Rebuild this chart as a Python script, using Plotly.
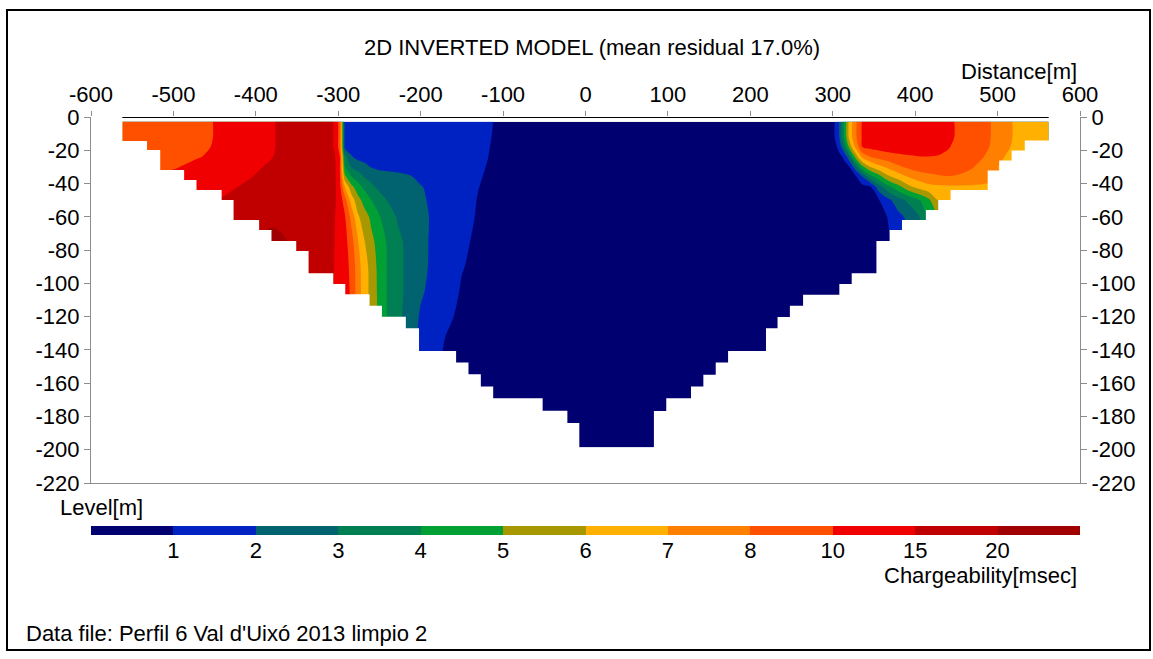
import numpy as np
import plotly.graph_objects as go

# ---------------------------------------------------------------------------
# Model nodes: horizontal position (m) of the node columns, split in blocks
# ---------------------------------------------------------------------------
DIST_WEST = [-562, -530, -500, -470, -440, -410, -380, -350, -325, -310,
             -304, -298, -292, -284, -276, -268, -260, -250, -240, -228,
             -214, -200, -186, -170, -150, -130, -110]
DIST_CENTRE = [-60, 60, 180, 270]
DIST_EAST = [295, 302, 308, 314, 320, 328, 336, 346, 356, 368,
             380, 392, 404, 416, 428, 440, 455, 470, 485, 500,
             515, 530, 562]

# Depth of each node row (m below surface)
DEPTH = [2.8, 12, 18, 24, 30, 36, 42, 50, 60, 75, 90, 105, 120, 140, 170, 198.7]

# Chargeability (msec), one list per depth row
CHARGE_WEST = [
    [9.2, 9.3, 9.5, 9.7, 10.5, 12.5, 14.75, 16.75, 17.0, 16.0, 14.5, 9.0, 1.6, 1.6, 1.6, 1.6, 1.6, 1.6, 1.6, 1.6, 1.6, 1.6, 1.6, 1.6, 1.55, 1.45, 0.95],
    [9.2, 9.3, 9.5, 9.7, 10.5, 12.5, 14.75, 16.75, 17.0, 16.0, 14.5, 9.0, 1.6, 1.6, 1.6, 1.6, 1.6, 1.6, 1.6, 1.6, 1.6, 1.6, 1.6, 1.6, 1.55, 1.4, 0.9],
    [9.2, 9.3, 9.4, 9.7, 10.75, 12.75, 14.75, 16.75, 17.0, 16.0, 14.5, 9.0, 1.7, 1.6, 1.6, 1.6, 1.6, 1.6, 1.6, 1.6, 1.6, 1.6, 1.6, 1.6, 1.5, 1.35, 0.85],
    [9.0, 9.1, 9.4, 9.9, 11.5, 13.25, 14.95, 16.75, 17.25, 16.5, 15.25, 10.0, 3.4, 2.1, 1.7, 1.6, 1.6, 1.6, 1.6, 1.6, 1.6, 1.6, 1.6, 1.6, 1.5, 1.3, 0.8],
    [9.2, 9.5, 9.8, 11.5, 13.0, 14.25, 15.5, 17.0, 17.25, 17.0, 15.75, 10.0, 4.1, 2.95, 2.6, 2.3, 1.95, 1.7, 1.65, 1.6, 1.6, 1.6, 1.6, 1.55, 1.5, 1.2, 0.75],
    [10.5, 11.0, 11.5, 12.5, 13.5, 14.75, 16.0, 17.0, 17.25, 17.0, 15.75, 10.5, 5.3, 4.05, 3.5, 2.95, 2.75, 2.6, 2.45, 2.3, 2.1, 1.8, 1.65, 1.6, 1.5, 1.1, 0.7],
    [11.5, 11.75, 12.25, 13.0, 14.25, 15.5, 16.75, 17.25, 17.25, 17.0, 15.75, 11.25, 7.02, 5.3, 4.4, 3.75, 3.2, 2.75, 2.55, 2.4, 2.25, 2.05, 1.8, 1.65, 1.45, 1.02, 0.7],
    [13.0, 13.5, 14.0, 14.5, 15.25, 16.75, 17.25, 17.5, 17.25, 17.0, 15.5, 12.75, 8.9, 6.55, 5.35, 4.6, 4.02, 3.45, 2.95, 2.65, 2.4, 2.15, 1.85, 1.65, 1.4, 0.95, 0.65],
    [14.0, 14.5, 15.0, 16.0, 17.0, 17.5, 17.75, 17.5, 17.25, 17.0, 15.05, 13.0, 10.5, 7.7, 6.15, 5.4, 4.8, 4.05, 3.5, 2.9, 2.55, 2.25, 1.9, 1.7, 1.35, 0.9, 0.65],
    [16.5, 17.0, 17.5, 18.0, 18.5, 19.0, 23.0, 18.0, 17.5, 17.25, 14.75, 13.0, 11.75, 8.8, 7.05, 6.02, 5.25, 4.6, 3.85, 3.25, 2.7, 2.3, 1.85, 1.6, 1.15, 0.85, 0.6],
    [17.0, 17.25, 17.5, 17.75, 18.0, 18.25, 18.5, 18.0, 17.5, 17.5, 14.5, 13.0, 11.5, 9.6, 7.35, 6.45, 5.6, 4.65, 3.9, 3.3, 2.7, 2.25, 1.85, 1.6, 1.05, 0.75, 0.6],
    [17.5, 17.5, 17.5, 17.5, 17.5, 17.5, 17.5, 17.5, 17.5, 17.0, 14.25, 13.0, 12.0, 9.7, 7.4, 6.5, 5.65, 4.7, 3.9, 3.3, 2.7, 2.1, 1.8, 1.5, 0.9, 0.7, 0.6],
    [17.0, 17.0, 17.0, 17.0, 17.0, 17.0, 17.0, 17.0, 17.0, 17.0, 14.25, 13.0, 12.0, 9.8, 7.45, 6.5, 5.7, 4.75, 3.9, 3.3, 2.5, 1.9, 1.7, 1.15, 0.85, 0.65, 0.6],
    [17.0, 17.0, 17.0, 17.0, 17.0, 17.0, 17.0, 17.0, 17.0, 17.0, 14.0, 12.5, 11.5, 9.6, 7.4, 6.4, 5.6, 4.6, 3.8, 3.1, 2.35, 1.75, 1.4, 0.9, 0.7, 0.6, 0.55],
    [17.0, 17.0, 17.0, 17.0, 17.0, 17.0, 17.0, 17.0, 17.0, 17.0, 14.0, 12.5, 11.5, 9.6, 7.4, 6.4, 5.6, 4.6, 3.8, 3.1, 2.0, 1.3, 0.9, 0.7, 0.6, 0.55, 0.55],
    [17.0, 17.0, 17.0, 17.0, 17.0, 17.0, 17.0, 17.0, 17.0, 17.0, 14.0, 12.5, 11.5, 9.6, 7.4, 6.4, 5.6, 4.6, 3.8, 3.1, 2.0, 1.3, 0.9, 0.7, 0.6, 0.55, 0.55],
]

CHARGE_CENTRE = [
    [0.55, 0.55, 0.55, 0.55], [0.55, 0.55, 0.55, 0.55], [0.55, 0.55, 0.55, 0.55],
    [0.55, 0.55, 0.55, 0.55], [0.55, 0.55, 0.55, 0.55], [0.55, 0.55, 0.55, 0.55],
    [0.55, 0.55, 0.55, 0.55], [0.55, 0.55, 0.55, 0.55], [0.55, 0.55, 0.55, 0.55],
    [0.55, 0.55, 0.55, 0.55], [0.55, 0.55, 0.55, 0.55], [0.55, 0.55, 0.55, 0.55],
    [0.55, 0.55, 0.55, 0.55], [0.55, 0.55, 0.55, 0.55], [0.55, 0.55, 0.55, 0.55],
    [0.55, 0.55, 0.55, 0.55],
]

CHARGE_EAST = [
    [0.6, 0.95, 2.02, 4.1, 6.3, 7.85, 10.75, 12.0, 12.5, 12.75, 13.0, 13.0, 13.0, 12.75, 12.25, 10.75, 9.7, 9.0, 8.4, 7.75, 7.1, 6.6, 6.3],
    [0.6, 0.95, 2.02, 4.1, 6.3, 7.85, 10.75, 12.0, 12.5, 12.75, 13.0, 13.0, 13.0, 12.75, 12.25, 10.75, 9.7, 9.0, 8.4, 7.75, 7.1, 6.6, 6.3],
    [0.6, 0.65, 1.35, 3.02, 5.2, 7.3, 10.1, 11.25, 11.75, 12.0, 12.25, 12.25, 12.0, 11.75, 11.25, 10.25, 9.5, 8.9, 8.3, 7.7, 7.02, 6.55, 6.3],
    [0.55, 0.6, 0.75, 1.15, 2.65, 5.4, 7.3, 8.04, 8.7, 9.3, 9.6, 9.8, 9.94, 9.96, 9.9, 9.7, 9.2, 8.7, 7.95, 7.3, 6.75, 6.45, 6.2],
    [0.55, 0.55, 0.6, 0.75, 0.9, 2.65, 4.7, 6.02, 6.7, 7.25, 7.85, 8.4, 8.9, 9.1, 9.2, 9.1, 8.7, 8.1, 7.55, 7.02, 6.7, 6.45, 6.2],
    [0.55, 0.55, 0.55, 0.6, 0.7, 0.85, 1.95, 3.6, 4.55, 5.8, 6.45, 7.05, 7.45, 7.7, 7.85, 7.95, 7.85, 7.65, 7.45, 7.1, 6.7, 6.45, 6.2],
    [0.55, 0.55, 0.55, 0.55, 0.6, 0.65, 0.7, 0.98, 2.6, 3.8, 4.7, 5.75, 6.35, 6.7, 6.8, 6.85, 6.85, 6.85, 6.8, 6.7, 6.5, 6.4, 6.2],
    [0.55, 0.55, 0.55, 0.55, 0.55, 0.55, 0.55, 0.55, 0.95, 1.8, 2.65, 3.2, 3.85, 4.75, 6.05, 6.4, 6.6, 6.6, 6.6, 6.5, 6.4, 6.3, 6.2],
    [0.55, 0.55, 0.55, 0.55, 0.55, 0.55, 0.55, 0.55, 0.55, 1.1, 1.7, 2.3, 2.9, 4.1, 5.02, 5.5, 5.8, 6.02, 6.1, 6.1, 6.1, 6.1, 6.1],
    [0.55, 0.55, 0.55, 0.55, 0.55, 0.55, 0.55, 0.55, 0.55, 0.9, 1.3, 1.7, 2.2, 3.02, 4.02, 4.8, 5.3, 5.6, 5.8, 5.9, 6.02, 6.02, 6.02],
    [0.55, 0.55, 0.55, 0.55, 0.55, 0.55, 0.55, 0.55, 0.55, 0.55, 0.55, 0.55, 0.55, 0.55, 0.55, 0.55, 0.55, 0.55, 0.55, 0.55, 0.55, 0.55, 0.55],
    [0.55, 0.55, 0.55, 0.55, 0.55, 0.55, 0.55, 0.55, 0.55, 0.55, 0.55, 0.55, 0.55, 0.55, 0.55, 0.55, 0.55, 0.55, 0.55, 0.55, 0.55, 0.55, 0.55],
    [0.55, 0.55, 0.55, 0.55, 0.55, 0.55, 0.55, 0.55, 0.55, 0.55, 0.55, 0.55, 0.55, 0.55, 0.55, 0.55, 0.55, 0.55, 0.55, 0.55, 0.55, 0.55, 0.55],
    [0.55, 0.55, 0.55, 0.55, 0.55, 0.55, 0.55, 0.55, 0.55, 0.55, 0.55, 0.55, 0.55, 0.55, 0.55, 0.55, 0.55, 0.55, 0.55, 0.55, 0.55, 0.55, 0.55],
    [0.55, 0.55, 0.55, 0.55, 0.55, 0.55, 0.55, 0.55, 0.55, 0.55, 0.55, 0.55, 0.55, 0.55, 0.55, 0.55, 0.55, 0.55, 0.55, 0.55, 0.55, 0.55, 0.55],
    [0.55, 0.55, 0.55, 0.55, 0.55, 0.55, 0.55, 0.55, 0.55, 0.55, 0.55, 0.55, 0.55, 0.55, 0.55, 0.55, 0.55, 0.55, 0.55, 0.55, 0.55, 0.55, 0.55],
]

# Section outline: layer boundaries (depth, m) and the edge position of each layer
LEFT_STEP_DEPTH = [2.8, 14.4, 19.8, 31.9, 37.9, 43.9, 49.9, 61.9, 67.9, 74.5, 80.5,
                   93.9, 100.4, 106.6, 113.4, 120.0, 127.0, 140.6, 147.6, 154.6,
                   162.0, 169.0, 176.6, 184.0, 198.7]
LEFT_STEP_X = [-562, -532, -516, -487, -472, -441.5, -427, -396, -381, -351, -336,
               -306, -291.5, -262, -247, -218, -202, -157, -142, -127, -112, -52,
               -22, -7.5]
RIGHT_STEP_DEPTH = [2.8, 14.2, 20.2, 26.2, 32.2, 43.9, 49.9, 55.9, 61.9, 67.9, 74.5,
                    93.9, 100.4, 106.8, 113.5, 120.2, 127.0, 140.6, 147.6, 155.0,
                    162.0, 169.0, 176.7, 198.7]
RIGHT_STEP_X = [562, 533, 517, 502, 488, 443, 428, 413, 384, 369, 353, 323, 308,
                264, 248, 233, 219, 173, 158, 143, 128, 98, 83]

# Colour classes (msec) and their colours
CHARGE_LEVELS = [1, 2, 3, 4, 5, 6, 7, 8, 10, 15, 20]
BAND_COLORS = ["#000070", "#0022c2", "#00636f", "#007f52", "#00a034", "#a89800",
               "#ffb000", "#ff8000", "#ff5000", "#f00000", "#c00000", "#a00000"]

DIST_TICKS = [-600, -500, -400, -300, -200, -100, 0, 100, 200, 300, 400, 500, 600]
LEVEL_TICKS = [0, -20, -40, -60, -80, -100, -120, -140, -160, -180, -200, -220]

TITLE = "2D INVERTED MODEL (mean residual 17.0%)"
DATA_FILE = "Data file: Perfil 6 Val d'Uixó 2013 limpio 2"

FONT = "Liberation Sans, Arial, sans-serif"
GREY = "#8c8c8c"

# ---------------------------------------------------------------------------
dist = np.array(DIST_WEST + DIST_CENTRE + DIST_EAST, dtype=float)
level = -np.array(DEPTH, dtype=float)
charge = np.hstack([np.array(CHARGE_WEST), np.array(CHARGE_CENTRE), np.array(CHARGE_EAST)])

# The colour classes are unevenly spaced in msec; place every class on an
# equal-width step so that contour levels can be spaced by one.
class_edges = [0] + CHARGE_LEVELS + [25]
class_pos = np.arange(len(class_edges))
charge_pos = np.interp(charge, class_edges, class_pos)

n_bands = len(BAND_COLORS)
scale = []
for i, c in enumerate(BAND_COLORS):
    scale.append([i / n_bands, c])
    scale.append([(i + 1) / n_bands, c])

fig = go.Figure()

fig.add_trace(go.Contour(
    x=dist, y=level, z=charge_pos,
    autocontour=False,
    contours=dict(start=1, end=len(CHARGE_LEVELS), size=1,
                  coloring="fill", showlines=False),
    line=dict(width=0, smoothing=0.9),
    colorscale=scale, showscale=False, hoverinfo="skip",
    xaxis="x", yaxis="y",
))

# Blank out everything outside the stepped model section
mask_x = [-600, LEFT_STEP_X[0]]
mask_y = [-LEFT_STEP_DEPTH[0], -LEFT_STEP_DEPTH[0]]
for i, xe in enumerate(LEFT_STEP_X):
    mask_x += [xe, xe]
    mask_y += [-LEFT_STEP_DEPTH[i], -LEFT_STEP_DEPTH[i + 1]]
for i in reversed(range(len(RIGHT_STEP_X))):
    xe = RIGHT_STEP_X[i]
    mask_x += [xe, xe]
    mask_y += [-RIGHT_STEP_DEPTH[i + 1], -RIGHT_STEP_DEPTH[i]]
mask_x += [600, 600, -600]
mask_y += [-RIGHT_STEP_DEPTH[0], -220, -220]

fig.add_trace(go.Scatter(
    x=mask_x, y=mask_y, mode="lines", fill="toself",
    fillcolor="white", line=dict(width=0, color="white"),
    hoverinfo="skip", xaxis="x", yaxis="y",
))

# Placeholders so that the bottom line and the right-hand axis are drawn
fig.add_trace(go.Scatter(x=[None], y=[None], xaxis="x3", yaxis="y", hoverinfo="skip"))
fig.add_trace(go.Scatter(x=[None], y=[None], xaxis="x", yaxis="y3", hoverinfo="skip"))

# Colour scale bar
band_centres = np.arange(n_bands) + 0.5
fig.add_trace(go.Heatmap(
    x=band_centres, y=[0], z=[list(range(n_bands))],
    colorscale=scale, zmin=-0.5, zmax=n_bands - 0.5,
    showscale=False, hoverinfo="skip", xaxis="x2", yaxis="y2",
))

# Layout in pixels: plot area 91..1080 x 117..483, colour bar 526..535
PLOT_BOTTOM = 535
H = PLOT_BOTTOM - 117
main_bottom = (PLOT_BOTTOM - 483) / H
bar_top = (PLOT_BOTTOM - 526) / H


def px_x(p):
    return (p - 91) / 989


def px_y(p):
    return (PLOT_BOTTOM - p) / H


tick_font = dict(family=FONT, size=22, color="black")
level_text = [str(v) for v in LEVEL_TICKS]

fig.update_layout(
    width=1153, height=659,
    margin=dict(l=91, r=73, t=117, b=659 - PLOT_BOTTOM, pad=0),
    paper_bgcolor="white", plot_bgcolor="white",
    showlegend=False,
    font=dict(family=FONT, size=22, color="black"),
    xaxis=dict(domain=[0, 1], anchor="y", side="top", range=[-600, 600],
               tickvals=DIST_TICKS, ticktext=[str(v) for v in DIST_TICKS],
               ticks="outside", ticklen=5, tickcolor=GREY, tickwidth=1,
               ticklabelstandoff=0,
               showline=False, showgrid=False, zeroline=False,
               tickfont=tick_font, fixedrange=True),
    yaxis=dict(domain=[main_bottom, 1], anchor="x", range=[-220, 0],
               tickvals=LEVEL_TICKS, ticktext=level_text,
               ticks="outside", ticklen=6, tickcolor=GREY, tickwidth=1,
               showline=True, linecolor=GREY, linewidth=1,
               showgrid=False, zeroline=False, tickfont=tick_font),
    xaxis3=dict(overlaying="x", anchor="y", side="bottom", range=[-600, 600],
                showline=True, linecolor=GREY, linewidth=1,
                showticklabels=False, ticks="", showgrid=False, zeroline=False),
    yaxis3=dict(overlaying="y", anchor="x", side="right", range=[-220, 0],
                tickvals=LEVEL_TICKS, ticktext=level_text,
                ticks="outside", ticklen=6, tickcolor=GREY, tickwidth=1,
                showline=True, linecolor=GREY, linewidth=1,
                showgrid=False, zeroline=False, tickfont=tick_font),
    xaxis2=dict(domain=[0, 1], anchor="y2", range=[0, n_bands],
                tickvals=list(range(1, len(CHARGE_LEVELS) + 1)),
                ticktext=[str(v) for v in CHARGE_LEVELS],
                ticks="", showline=False, showgrid=False, zeroline=False,
                tickfont=tick_font),
    yaxis2=dict(domain=[0, bar_top], anchor="x2", range=[-0.5, 0.5],
                visible=False),
)

# Ground surface line across the section
fig.add_shape(type="line", xref="x", yref="y",
              x0=LEFT_STEP_X[0], x1=RIGHT_STEP_X[0], y0=0, y1=0,
              line=dict(color="black", width=2), layer="above")

# Outer frame
fig.add_shape(type="rect", xref="paper", yref="paper",
              x0=px_x(7), x1=px_x(1150), y0=px_y(650), y1=px_y(10),
              line=dict(color="black", width=2), fillcolor="rgba(0,0,0,0)")

ann = dict(showarrow=False, xref="paper", yref="paper",
           font=dict(family=FONT, size=22, color="black"))
fig.add_annotation(text=TITLE, x=px_x(592), y=px_y(48),
                   xanchor="center", yanchor="middle", **ann)
fig.add_annotation(text="Distance[m]", x=px_x(1079), y=px_y(71),
                   xanchor="right", yanchor="middle", **ann)
fig.add_annotation(text="Level[m]", x=px_x(58), y=px_y(507),
                   xanchor="left", yanchor="middle", **ann)
fig.add_annotation(text="Chargeability[msec]", x=px_x(1079), y=px_y(575),
                   xanchor="right", yanchor="middle", **ann)
fig.add_annotation(text=DATA_FILE, x=px_x(24), y=px_y(633),
                   xanchor="left", yanchor="middle", **ann)

fig.write_html("out.html")
